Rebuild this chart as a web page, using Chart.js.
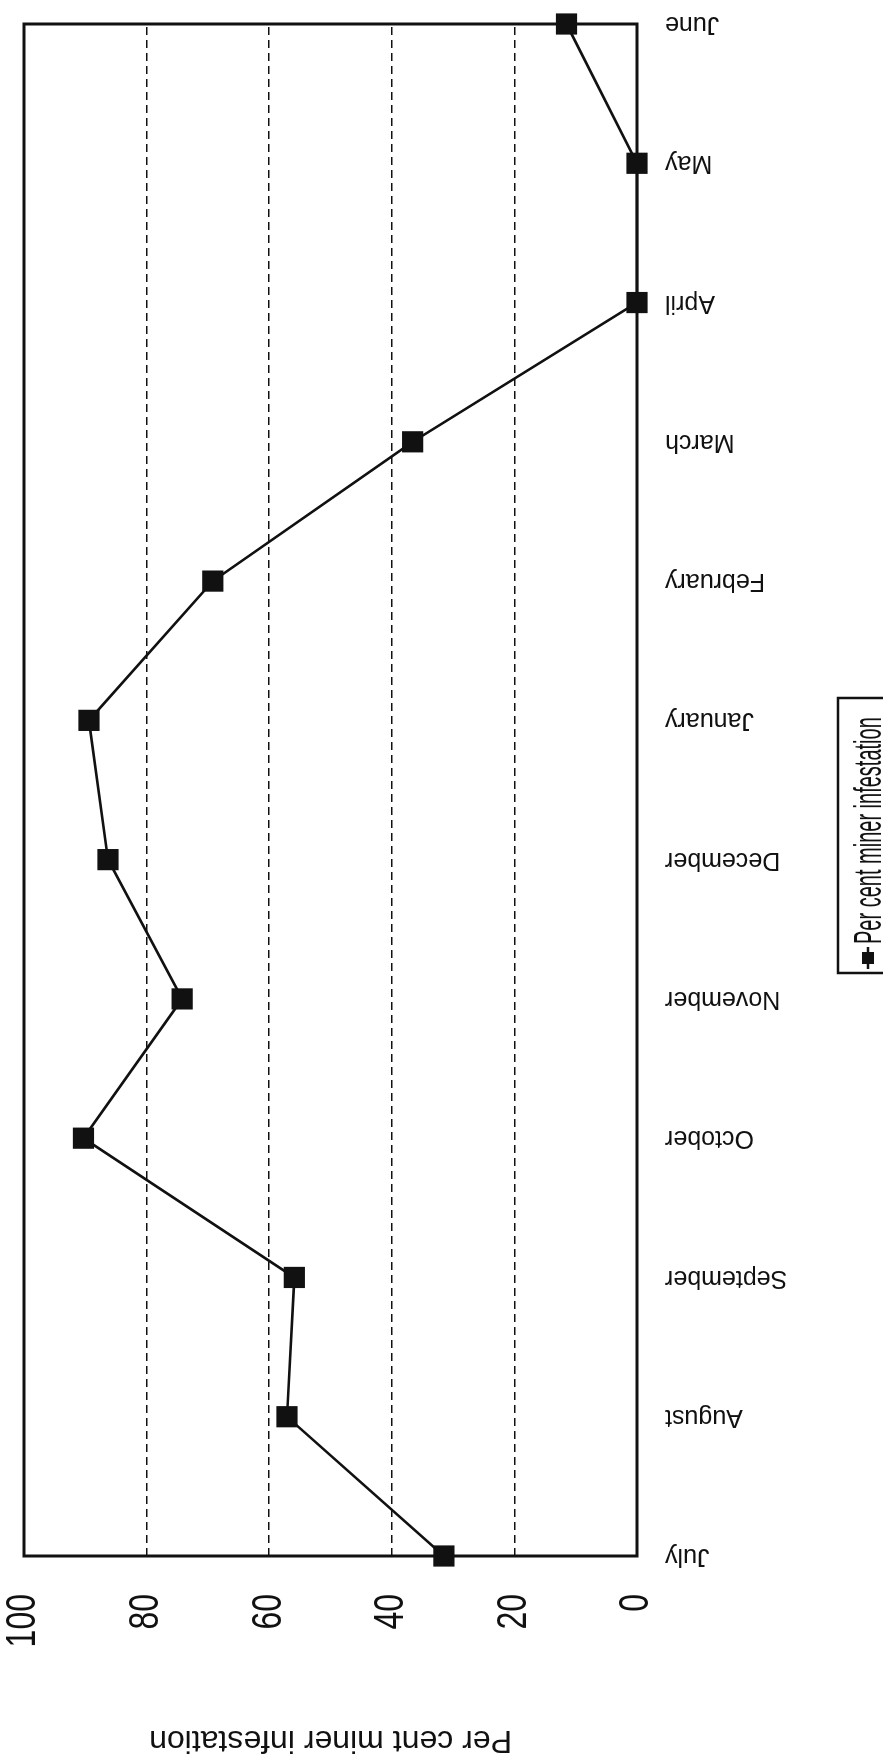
<!DOCTYPE html>
<html>
<head>
<meta charset="utf-8">
<script src="https://cdn.jsdelivr.net/npm/chart.js@4.4.0/dist/chart.umd.min.js"></script>
<style>
  html, body { margin: 0; padding: 0; background: #fff; overflow: hidden; }
  /* chart is drawn upright, then turned a quarter turn to the left like the scan */
  #wrap {
    position: absolute; left: 0; top: 0;
    width: 1764px; height: 883px;
    transform-origin: 0 0;
    transform: translate(0px, 1764px) rotate(-90deg);
  }
</style>
</head>
<body>
<div id="wrap"><canvas id="chart" width="1764" height="883"></canvas></div>
<script>
const months = ['July', 'August', 'September', 'October', 'November', 'December',
                'January', 'February', 'March', 'April', 'May', 'June'];
const infestation = [31.5, 57.1, 55.9, 90.3, 74.2, 86.3, 89.4, 69.2, 36.6, 0, 0, 11.5];
const yTicks = [0, 20, 40, 60, 80, 100];
const seriesName = 'Per cent miner infestation';

// solid frame round the plot area
const framePlugin = {
  id: 'frame',
  beforeDatasetsDraw(chart) {
    const a = chart.chartArea;
    const ctx = chart.ctx;
    ctx.save();
    ctx.strokeStyle = '#111';
    ctx.lineWidth = 3;
    ctx.strokeRect(a.left, a.top, a.right - a.left, a.bottom - a.top);
    ctx.restore();
  }
};

// y tick numbers: the scan has tall, narrow digits, so stretch them a bit
const yLabelPlugin = {
  id: 'yLabels',
  afterDraw(chart) {
    const y = chart.scales.y;
    const ctx = chart.ctx;
    ctx.save();
    ctx.fillStyle = '#111';
    ctx.font = '32px Arial, "Liberation Sans", sans-serif';
    ctx.textAlign = 'right';
    ctx.textBaseline = 'middle';
    yTicks.forEach(v => {
      ctx.save();
      ctx.translate(y.right - 38, y.getPixelForValue(v));
      ctx.scale(1, 1.3);
      ctx.fillText(String(v), 0, 0);
      ctx.restore();
    });
    ctx.restore();
  }
};

// boxed legend under the month labels (runs off the page edge)
const legendBoxPlugin = {
  id: 'legendBox',
  afterDraw(chart) {
    const ctx = chart.ctx;
    const x0 = 791, y0 = 838, w = 275;
    ctx.save();
    ctx.strokeStyle = '#111';
    ctx.fillStyle = '#111';
    ctx.lineWidth = 2.5;
    ctx.strokeRect(x0, y0, w, 80);
    ctx.beginPath();
    ctx.moveTo(x0 + 4, y0 + 30);
    ctx.lineTo(x0 + 26, y0 + 30);
    ctx.stroke();
    ctx.fillRect(x0 + 9, y0 + 24, 12, 12);
    ctx.translate(x0 + 29, 881);
    ctx.scale(1, 1.9);
    ctx.font = '20px Arial, "Liberation Sans", sans-serif';
    ctx.textBaseline = 'alphabetic';
    ctx.fillText(seriesName, 0, 0);
    ctx.restore();
  }
};

const ctx = document.getElementById('chart').getContext('2d');

new Chart(ctx, {
  type: 'line',
  data: {
    labels: months,
    datasets: [{
      label: seriesName,
      data: infestation,
      borderColor: '#111',
      backgroundColor: '#111',
      borderWidth: 2.6,
      pointStyle: 'rect',
      pointRadius: 15,
      pointBorderWidth: 0,
      tension: 0,
      clip: false
    }]
  },
  options: {
    responsive: false,
    animation: false,
    devicePixelRatio: 1,
    layout: { autoPadding: false, padding: { top: 24, right: 24, left: 0, bottom: 0 } },
    plugins: {
      legend: { display: false },
      tooltip: { enabled: false }
    },
    scales: {
      x: {
        offset: false,
        grid: { display: false },
        border: { display: false },
        ticks: {
          autoSkip: false,
          maxRotation: 90,
          minRotation: 90,
          padding: 20,
          color: '#111',
          font: { family: 'Arial, "Liberation Sans", sans-serif', size: 25 }
        },
        afterFit(scale) {
          scale.height = 246;
          scale.paddingLeft = 0;
          scale.paddingRight = 0;
        }
      },
      y: {
        min: 0,
        max: 100,
        afterBuildTicks(scale) { scale.ticks = yTicks.map(v => ({ value: v })); },
        grid: {
          drawTicks: false,
          lineWidth: 1.6,
          color: c => (c.tick && (c.tick.value === 0 || c.tick.value === 100)) ? 'rgba(0,0,0,0)' : '#111'
        },
        border: { display: false, dash: [8, 5] },
        ticks: { display: false },
        title: {
          display: true,
          text: seriesName,
          color: '#111',
          padding: { top: 5, bottom: 0 },
          font: { family: 'Arial, "Liberation Sans", sans-serif', size: 32 }
        },
        afterFit(scale) { scale.width = 208; }
      }
    }
  },
  plugins: [framePlugin, yLabelPlugin, legendBoxPlugin]
});
</script>
</body>
</html>
